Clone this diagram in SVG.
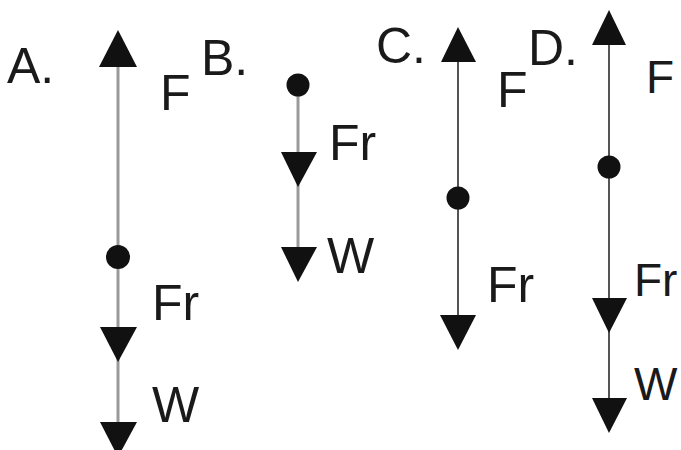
<svg xmlns="http://www.w3.org/2000/svg" width="681" height="450" viewBox="0 0 681 450">
<style>
text{font-family:"Liberation Sans",Arial,sans-serif;font-size:50px;fill:#1a1a1a}
.s{font-size:46px}
.g{stroke:#9a9a9a;stroke-width:3;fill:none}
.d{stroke:#555;stroke-width:2;fill:none}
.h{fill:#111}
</style>
<rect width="681" height="450" fill="#fff"/>
<g id="connectors">
<line class="g" x1="118" y1="60" x2="118" y2="440"/>
<line class="g" x1="298" y1="85" x2="298" y2="270"/>
<line class="d" x1="458" y1="55" x2="458" y2="340"/>
<line class="d" x1="609" y1="40" x2="609" y2="420"/>
</g>
<g id="nodeA">
<polygon class="h" points="118,30 99,67 137,67"/>
<circle class="h" cx="118" cy="257" r="12"/>
<polygon class="h" points="100,327 137,327 118,362"/>
<polygon class="h" points="100,422 137,422 118,457"/>
<text x="7" y="83">A.</text>
<text x="160" y="110">F</text>
<text x="152" y="320">Fr</text>
<text x="152" y="422">W</text>
</g>
<g id="nodeB">
<circle class="h" cx="298" cy="85" r="11.5"/>
<polygon class="h" points="281,152 317,152 298,187"/>
<polygon class="h" points="281,247 317,247 298,282"/>
<text x="201" y="75">B.</text>
<text x="329" y="160">Fr</text>
<text x="327" y="273">W</text>
</g>
<g id="nodeC">
<polygon class="h" points="458,27 441,62 476,62"/>
<circle class="h" cx="458" cy="198" r="11.5"/>
<polygon class="h" points="440,315 476,315 458,350"/>
<text x="376" y="63">C.</text>
<text x="497" y="107">F</text>
<text x="487" y="302">Fr</text>
</g>
<g id="nodeD">
<polygon class="h" points="609,10 592,45 626,45"/>
<circle class="h" cx="609" cy="167" r="11.5"/>
<polygon class="h" points="592,298 627,298 609,333"/>
<polygon class="h" points="592,398 627,398 609,433"/>
<text x="528" y="65">D.</text>
<text x="646" y="93" class="s">F</text>
<text x="634" y="296" class="s">Fr</text>
<text x="634" y="400" class="s">W</text>
</g>
</svg>
